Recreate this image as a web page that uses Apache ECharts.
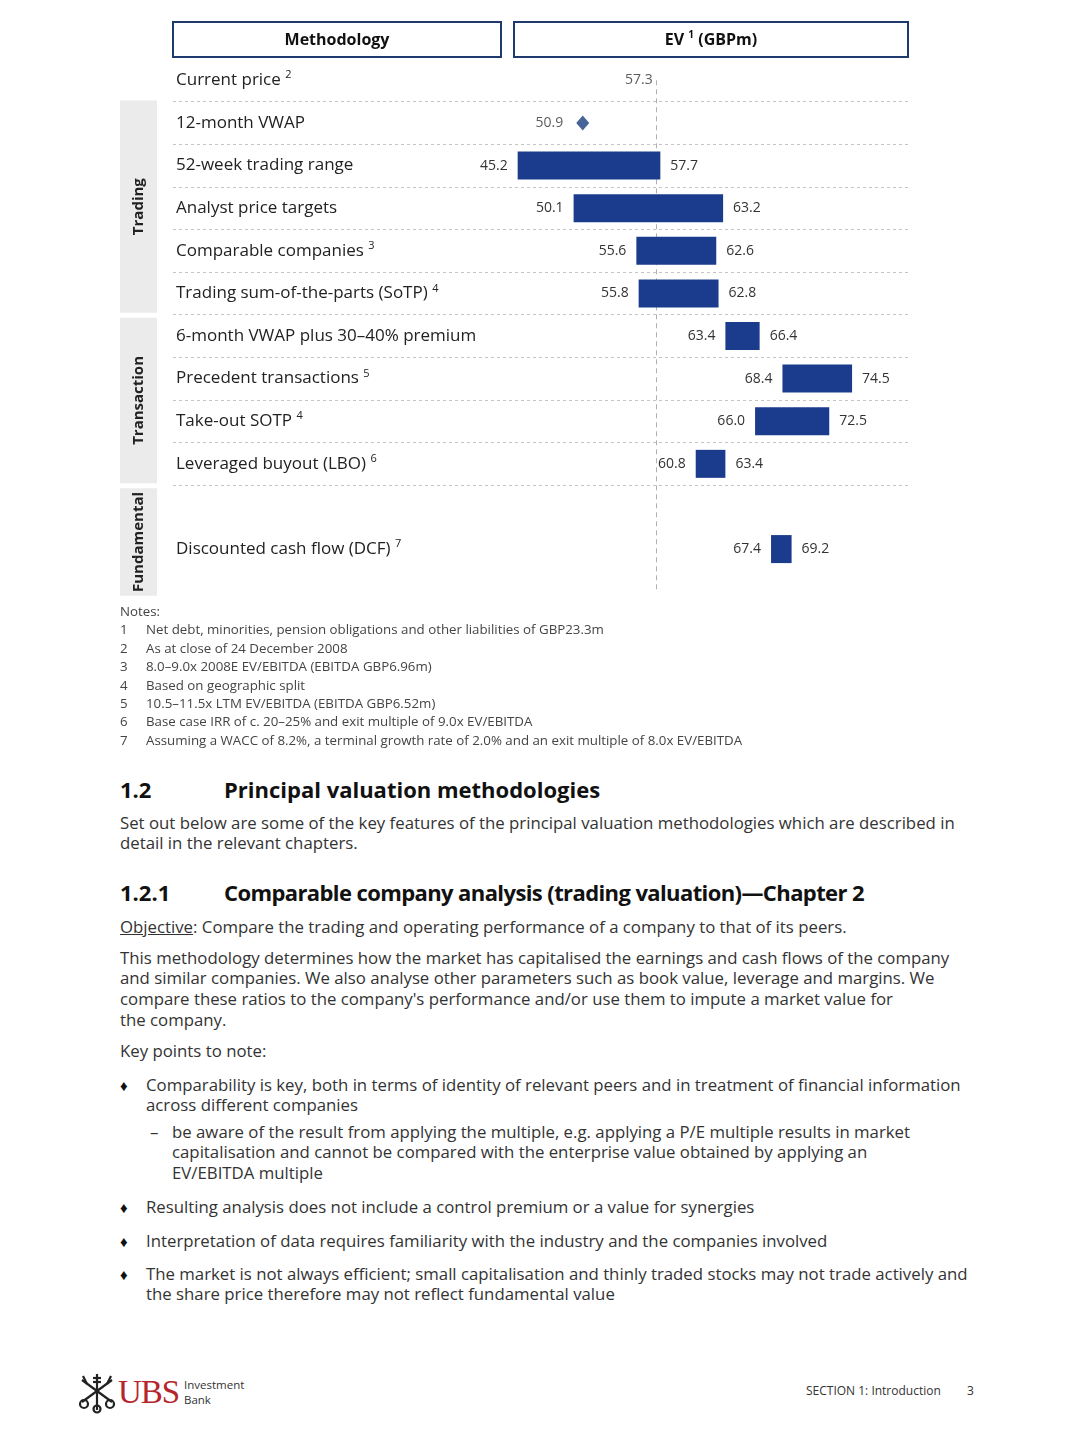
<!DOCTYPE html>
<html>
<head>
<meta charset="utf-8">
<script src="https://cdn.jsdelivr.net/npm/echarts@6/dist/echarts.min.js"></script>
<style>
  html, body { margin:0; padding:0; background:#fff; }
  body { width:1080px; height:1440px; position:relative; overflow:hidden; font-family:"Open Sans", "Noto Sans", sans-serif; color:#333; }
  #chart { position:absolute; left:0; top:0; width:1080px; height:620px; }
  .blk { position:absolute; left:120px; white-space:nowrap; }
  .notes { top:602px; font-size:13.3px; line-height:18.4px; color:#444; }
  .notes .n { display:inline-block; width:26px; }
  .h { font-weight:700; color:#111; font-size:22px; line-height:26px; }
  .h .num { display:inline-block; width:104px; }
  .p { font-size:16.8px; line-height:20.8px; color:#333; }
  .li { position:absolute; white-space:nowrap; font-size:16.8px; line-height:20.8px; color:#333; }
  .bul { position:absolute; left:-26px; top:0; font-size:15px; color:#111; }
  .dash { position:absolute; left:-22px; top:0; }
  .footer { position:absolute; top:1382px; font-size:12px; color:#333; }
</style>
</head>
<body>
<div id="chart"></div>

<div class="blk notes">
  <div>Notes:</div>
  <div><span class="n">1</span>Net debt, minorities, pension obligations and other liabilities of GBP23.3m</div>
  <div><span class="n">2</span>As at close of 24 December 2008</div>
  <div><span class="n">3</span>8.0–9.0x 2008E EV/EBITDA (EBITDA GBP6.96m)</div>
  <div><span class="n">4</span>Based on geographic split</div>
  <div><span class="n">5</span>10.5–11.5x LTM EV/EBITDA (EBITDA GBP6.52m)</div>
  <div><span class="n">6</span>Base case IRR of c. 20–25% and exit multiple of 9.0x EV/EBITDA</div>
  <div><span class="n">7</span>Assuming a WACC of 8.2%, a terminal growth rate of 2.0% and an exit multiple of 8.0x EV/EBITDA</div>
</div>

<div class="blk h" style="top:776px;"><span class="num">1.2</span>Principal valuation methodologies</div>
<div class="blk p" style="top:812.5px;">Set out below are some of the key features of the principal valuation methodologies which are described in<br>detail in the relevant chapters.</div>

<div class="blk h" style="top:879px;"><span class="num">1.2.1</span><span style="letter-spacing:-0.6px;">Comparable company analysis (trading valuation)—Chapter 2</span></div>
<div class="blk p" style="top:916.5px;"><span style="text-decoration:underline;">Objective</span>: Compare the trading and operating performance of a company to that of its peers.</div>
<div class="blk p" style="top:947.6px;">This methodology determines how the market has capitalised the earnings and cash flows of the company<br>and similar companies. We also analyse other parameters such as book value, leverage and margins. We<br>compare these ratios to the company's performance and/or use them to impute a market value for<br>the company.</div>
<div class="blk p" style="top:1040.5px;">Key points to note:</div>

<div class="li" style="left:146px; top:1074.5px;"><span class="bul">♦</span>Comparability is key, both in terms of identity of relevant peers and in treatment of financial information<br>across different companies</div>
<div class="li" style="left:172px; top:1121.5px;"><span class="dash">–</span>be aware of the result from applying the multiple, e.g. applying a P/E multiple results in market<br>capitalisation and cannot be compared with the enterprise value obtained by applying an<br>EV/EBITDA multiple</div>
<div class="li" style="left:146px; top:1196.5px;"><span class="bul">♦</span>Resulting analysis does not include a control premium or a value for synergies</div>
<div class="li" style="left:146px; top:1230.5px;"><span class="bul">♦</span>Interpretation of data requires familiarity with the industry and the companies involved</div>
<div class="li" style="left:146px; top:1263.5px;"><span class="bul">♦</span>The market is not always efficient; small capitalisation and thinly traded stocks may not trade actively and<br>the share price therefore may not reflect fundamental value</div>

<div style="position:absolute; left:78px; top:1372px; width:40px; height:42px;">
  <svg width="38" height="42" viewBox="0 0 38 42">
    <g stroke="#222" stroke-width="2.2" fill="none">
      <line x1="19" y1="2" x2="19" y2="38"/>
      <line x1="4" y1="8" x2="34" y2="30"/>
      <line x1="34" y1="8" x2="4" y2="30"/>
      <circle cx="6" cy="32" r="4"/>
      <circle cx="32" cy="32" r="4"/>
      <circle cx="19" cy="37" r="3.5"/>
      <line x1="15" y1="6" x2="23" y2="6"/>
      <line x1="15" y1="10" x2="23" y2="10"/>
      <line x1="5" y1="4" x2="9" y2="12"/>
      <line x1="33" y1="4" x2="29" y2="12"/>
    </g>
  </svg>
</div>
<div style="position:absolute; left:118px; top:1374px; font-family:'Liberation Serif','DejaVu Serif',serif; font-size:33px; line-height:36px; color:#b5262b; letter-spacing:-1px;">UBS</div>
<div style="position:absolute; left:184px; top:1378px; font-size:11.5px; line-height:14.5px; color:#333;">Investment<br>Bank</div>
<div class="footer" style="left:806px;">SECTION 1: Introduction</div>
<div class="footer" style="left:967px;">3</div>

<script>
// ---------- data ----------
const categories = [
  'Current price', '12-month VWAP', '52-week trading range', 'Analyst price targets',
  'Comparable companies', 'Trading sum-of-the-parts (SoTP)', '6-month VWAP plus 30–40% premium',
  'Precedent transactions', 'Take-out SOTP', 'Leveraged buyout (LBO)', '',
  'Discounted cash flow (DCF)', ''
];
const footnoteRefs = ['2', '', '', '', '3', '4', '', '5', '4', '6', '', '7', ''];
const lows  = [null, null, 45.2, 50.1, 55.6, 55.8, 63.4, 68.4, 66.0, 60.8, null, 67.4, null];
const highs = [null, null, 57.7, 63.2, 62.6, 62.8, 66.4, 74.5, 72.5, 63.4, null, 69.2, null];
const vwap12m = 50.9;
const currentPrice = 57.3;
const groups = [
  { name: 'Trading', from: 1, to: 5 },
  { name: 'Transaction', from: 6, to: 9 },
  { name: 'Fundamental', from: 10, to: 12 }
];

// ---------- chart ----------
const BAR = '#1b3c8d';
const chart = echarts.init(document.getElementById('chart'), null, { renderer: 'canvas' });
const fontFam = '"Open Sans", "Noto Sans", sans-serif';

const rangeData = lows.map((l, i) => (l == null ? null : +(highs[i] - l).toFixed(2)));

// dashed row separators only between the rows from "Current price" down to "Leveraged buyout"
const sepColors = categories.concat(['end']).map((c, i) => (i >= 1 && i <= 10 ? '#c4c4c4' : 'rgba(0,0,0,0)'));

chart.setOption({
  animation: false,
  textStyle: { fontFamily: fontFam },
  grid: { left: 173, width: 735, top: 59, height: 554 },
  xAxis: {
    type: 'value', min: 15, max: 79.4,
    show: false, splitLine: { show: false }
  },
  yAxis: {
    type: 'category', inverse: true, data: categories,
    axisLine: { show: false }, axisTick: { show: false },
    axisLabel: {
      inside: true, margin: 3, fontSize: 17, color: '#222', fontFamily: fontFam,
      interval: 0,
      formatter: (v, i) => (footnoteRefs[i] ? v + ' {sup|' + footnoteRefs[i] + '}' : v),
      rich: { sup: { fontSize: 11, color: '#222', padding: [0, 0, 10, 0], fontFamily: fontFam } }
    },
    splitLine: {
      show: true,
      interval: 0,
      lineStyle: { color: sepColors, type: [3, 3], width: 1 }
    }
  },
  series: [
    {
      name: 'base', type: 'bar', stack: 'range', barWidth: 28, silent: true, z: 3,
      itemStyle: { color: 'rgba(0,0,0,0)' },
      data: lows,
      label: {
        show: true, position: 'insideRight', distance: 10, fontSize: 14, color: '#333',
        formatter: (p) => (p.value == null ? '' : Number(p.value).toFixed(1))
      },
      emphasis: { disabled: true }
    },
    {
      name: 'range', type: 'bar', stack: 'range', barWidth: 28, silent: true, z: 3,
      itemStyle: { color: BAR },
      data: rangeData,
      label: {
        show: true, position: 'right', distance: 10, fontSize: 14, color: '#333',
        formatter: (p) => (highs[p.dataIndex] == null ? '' : highs[p.dataIndex].toFixed(1))
      },
      emphasis: { disabled: true }
    },
    {
      name: '12-month VWAP', type: 'scatter', symbol: 'diamond', symbolSize: [13, 15], z: 3,
      itemStyle: { color: '#163d7e' }, silent: true,
      data: [[vwap12m, categories[1]]],
      label: { show: true, position: 'left', distance: 13, fontSize: 14, color: '#333', formatter: () => vwap12m.toFixed(1) }
    },
    {
      name: 'Current price', type: 'scatter', symbolSize: 0, silent: true, z: 1,
      data: [[currentPrice, categories[0]]],
      label: { show: true, position: 'left', distance: 3, fontSize: 14, color: '#333', formatter: () => currentPrice.toFixed(1) },
      markLine: {
        silent: true, symbol: 'none', label: { show: false }, z: 1,
        lineStyle: { color: '#b0b0b0', type: [5, 4], width: 1 },
        data: [[{ coord: [currentPrice, 0] }, { coord: [currentPrice, 12] }]]
      }
    }
  ]
});

// decorations positioned from the axis scale
const yPix = (i) => chart.convertToPixel({ yAxisIndex: 0 }, i);
const band = yPix(1) - yPix(0);
const gridRight = 908;
const graphics = [];

// header boxes
graphics.push({ type: 'rect', shape: { x: 173, y: 22, width: 328, height: 35 }, style: { fill: '#fff', stroke: '#1f3b6e', lineWidth: 2 } });
graphics.push({ type: 'rect', shape: { x: 514, y: 22, width: gridRight - 514, height: 35 }, style: { fill: '#fff', stroke: '#1f3b6e', lineWidth: 2 } });
graphics.push({ type: 'text', x: 337, y: 40, style: { text: 'Methodology', font: 'bold 16px ' + fontFam, fill: '#111', align: 'center', verticalAlign: 'middle' } });
graphics.push({ type: 'text', x: 711, y: 40, style: {
  text: '{b|EV }{s|1}{b| (GBPm)}', align: 'center', verticalAlign: 'middle',
  rich: { b: { font: 'bold 16px ' + fontFam, fill: '#111' }, s: { font: 'bold 10px ' + fontFam, fill: '#111', padding: [0, 0, 9, 0] } }
} });

// group side boxes
groups.forEach((g, gi) => {
  const top = yPix(g.from) - band / 2 + (gi === 0 ? -1 : 3);
  const bottom = g.to === 12 ? yPix(12) + 4 : yPix(g.to) + band / 2 - 2;
  graphics.push({ type: 'rect', shape: { x: 120, y: top, width: 37, height: bottom - top }, style: { fill: '#ebebeb' } });
  graphics.push({ type: 'text', x: 139, y: (top + bottom) / 2, rotation: Math.PI / 2,
    style: { text: g.name, font: 'bold 15px ' + fontFam, fill: '#222', align: 'center', verticalAlign: 'middle' } });
});

chart.setOption({ graphic: graphics });
</script>
</body>
</html>
